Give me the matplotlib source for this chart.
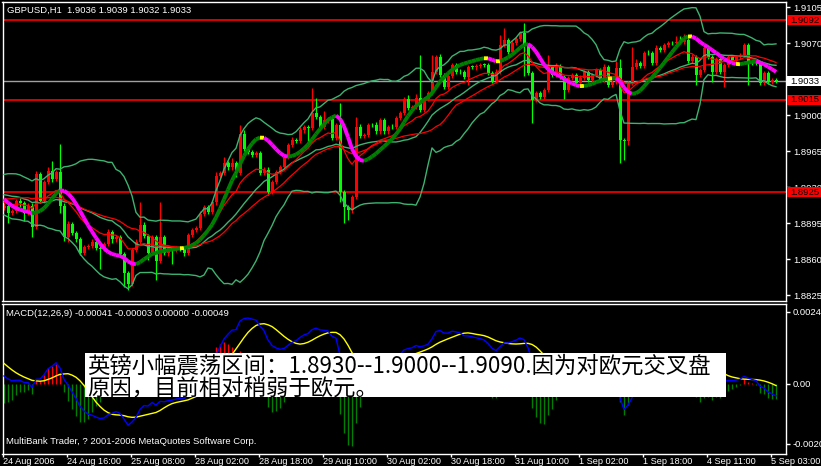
import matplotlib.pyplot as plt
from matplotlib.collections import LineCollection
from matplotlib.patches import Rectangle
import numpy as np
import pandas as pd

plt.rcParams['font.family'] = ['Liberation Sans', 'DejaVu Sans']

# GBPUSD H1 closes before the first visible bar, only used to start the indicators
warmup = [1.8872, 1.8878, 1.8870, 1.8865, 1.8874, 1.8880, 1.8876, 1.8884, 1.8879, 1.8885,
          1.8880, 1.8876, 1.8884, 1.8890, 1.8886, 1.8895, 1.8902, 1.8898, 1.8906, 1.8912,
          1.8908, 1.8918, 1.8925, 1.8921, 1.8930, 1.8936, 1.8932, 1.8940, 1.8935, 1.8930,
          1.8926, 1.8932, 1.8924, 1.8918, 1.8922, 1.8914, 1.8908, 1.8912, 1.8906, 1.8910]

# visible bars, 24 Aug 2006 00:00 .. 5 Sep 03:00
closes = [1.8912, 1.8905, 1.8907, 1.8916, 1.8914, 1.8905, 1.8912, 1.8891, 1.8943, 1.8916,
          1.8935, 1.8946, 1.8938, 1.8945, 1.8912, 1.8881, 1.8894, 1.8885, 1.8879, 1.8866,
          1.8872, 1.8873, 1.8877, 1.8871, 1.8870, 1.8875, 1.8886, 1.8879, 1.8881, 1.8865,
          1.8846, 1.8836, 1.8869, 1.8877, 1.8893, 1.8882, 1.8866, 1.8881, 1.8858, 1.8881,
          1.8866, 1.8871, 1.8869, 1.8871, 1.8870, 1.8866, 1.8883, 1.8888, 1.8890, 1.8904,
          1.8911, 1.8906, 1.8915, 1.8941, 1.8944, 1.8953, 1.8949, 1.8953, 1.8944, 1.8982,
          1.8967, 1.8964, 1.8961, 1.8963, 1.8944, 1.8947, 1.8925, 1.8935, 1.8945, 1.8949,
          1.8959, 1.8971, 1.8976, 1.8975, 1.8985, 1.8988, 1.8987, 1.9002, 1.8998, 1.8988,
          1.8995, 1.8996, 1.8978, 1.8990, 1.8925, 1.8911, 1.8908, 1.8920, 1.8988, 1.8980,
          1.8981, 1.8990, 1.8990, 1.8984, 1.8995, 1.8984, 1.8988, 1.8988, 1.8997, 1.9002,
          1.9016, 1.9007, 1.9008, 1.9017, 1.9005, 1.9016, 1.9021, 1.9042, 1.9056, 1.9039,
          1.9027, 1.9038, 1.9049, 1.9042, 1.9042, 1.9037, 1.9047, 1.9047, 1.9048, 1.9049,
          1.9049, 1.9041, 1.9033, 1.9042, 1.9068, 1.9073, 1.9061, 1.9070, 1.9074, 1.9080,
          1.9068, 1.9041, 1.9015, 1.9021, 1.9018, 1.9024, 1.9047, 1.9039, 1.9048, 1.9037,
          1.9024, 1.9036, 1.9039, 1.9031, 1.9036, 1.9042, 1.9034, 1.9039, 1.9044, 1.9034,
          1.9047, 1.9029, 1.9032, 1.9046, 1.8976, 1.8975, 1.9031, 1.9047, 1.9051, 1.9048,
          1.9060, 1.9060, 1.9051, 1.9065, 1.9063, 1.9068, 1.9070, 1.9070, 1.9071, 1.9071,
          1.9073, 1.9053, 1.9056, 1.9039, 1.9044, 1.9065, 1.9056, 1.9042, 1.9054, 1.9042,
          1.9049, 1.9056, 1.9053, 1.9056, 1.9058, 1.9068, 1.9051, 1.9051, 1.9051, 1.9031,
          1.9041, 1.9032, 1.9034, 1.9033]

# wick lengths in pips above / below the body
wick_up = [2, 2, 2, 2, 3, 2, 2, 2, 3, 2,  2, 3, 9, 2, 27, 2, 3, 2, 2, 2,
           2, 2, 2, 2, 2, 2, 3, 2, 2, 2,  2, 2, 2, 2, 22, 3, 2, 2, 2, 34,
           2, 2, 2, 2, 2, 2, 2, 2, 2, 3,  2, 2, 2, 4, 2, 6, 2, 5, 2, 8,
           3, 2, 2, 2, 2, 2, 2, 2, 2, 2,  2, 2, 3, 2, 3, 2, 2, 24, 15, 2,
           9, 2, 3, 2, 22, 2, 2, 2, 10, 3,  2, 2, 2, 3, 2, 2, 2, 3, 2, 2,
           2, 3, 2, 3, 41, 2, 2, 16, 2, 3,  2, 4, 2, 2, 3, 2, 2, 2, 2, 2,
           2, 2, 2, 3, 10, 12, 2, 3, 2, 2,  9, 2, 2, 2, 2, 2, 11, 2, 3, 2,
           2, 2, 2, 2, 3, 2, 2, 2, 2, 2,  3, 2, 2, 7, 8, 2, 2, 19, 3, 2,
           2, 3, 2, 3, 2, 2, 2, 2, 6, 6,  6, 2, 3, 2, 2, 2, 3, 2, 2, 2,
           2, 2, 2, 2, 2, 2, 2, 2, 2, 2,  2, 2, 2, 2]
wick_dn = [2, 10, 2, 2, 3, 8, 2, 10, 2, 2,  2, 2, 3, 2, 7, 3, 4, 2, 2, 2,
           2, 2, 2, 2, 20, 2, 2, 3, 2, 2,  13, 6, 2, 2, 2, 2, 7, 2, 18, 2,
           2, 3, 14, 2, 2, 3, 2, 2, 2, 2,  2, 2, 2, 2, 2, 2, 2, 2, 4, 2,
           2, 2, 2, 2, 2, 2, 3, 2, 2, 2,  2, 2, 2, 2, 2, 2, 16, 2, 2, 2,
           2, 3, 2, 2, 10, 16, 10, 3, 2, 2,  2, 2, 2, 2, 2, 2, 2, 2, 2, 2,
           2, 2, 2, 2, 2, 2, 2, 2, 2, 2,  2, 2, 2, 2, 2, 2, 8, 2, 3, 2,
           2, 2, 2, 2, 2, 2, 2, 3, 2, 2,  30, 2, 23, 2, 2, 2, 2, 2, 2, 2,
           8, 2, 2, 2, 2, 2, 2, 2, 2, 2,  2, 2, 2, 2, 23, 19, 4, 2, 2, 2,
           2, 2, 2, 2, 2, 2, 2, 2, 2, 2,  2, 2, 2, 10, 2, 2, 2, 10, 2, 2,
           15, 2, 2, 2, 2, 2, 22, 2, 2, 2,  2, 2, 2, 2]

price_ticks = [1.9105, 1.9070, 1.9035, 1.9000, 1.8965, 1.8930, 1.8895, 1.8860, 1.8825]
price_tick_labels = ['1.9105', '1.9070', '', '1.9000', '1.8965', '1.8930', '1.8895', '1.8860', '1.8825']
red_levels = [1.9092, 1.9015, 1.8925]
bid_level = 1.9033
macd_ticks = [0.00248, 0.0, -0.00207]
macd_tick_labels = ['0.00248', '0.00', '-0.00207']
time_labels = ['24 Aug 2006', '24 Aug 16:00', '25 Aug 08:00', '28 Aug 02:00', '28 Aug 18:00',
               '29 Aug 10:00', '30 Aug 02:00', '30 Aug 18:00', '31 Aug 10:00', '1 Sep 02:00',
               '1 Sep 18:00', '4 Sep 11:00', '5 Sep 03:00']
title = 'GBPUSD,H1  1.9036 1.9039 1.9032 1.9033'
macd_title = 'MACD(12,26,9) -0.00041 -0.00003 0.00000 -0.00049'
footer = 'MultiBank Trader, ? 2001-2006 MetaQuotes Software Corp.'
note = ['英镑小幅震荡区间：1.8930--1.9000--1.9090.因为对欧元交叉盘',
        '原因，目前相对稍弱于欧元。']

W, H = 821, 466
fig = plt.figure(figsize=(W / 100, H / 100), dpi=100, facecolor='black')


def px_axes(x0, y0, x1, y1):
    a = fig.add_axes([x0 / W, 1 - y1 / H, (x1 - x0) / W, (y1 - y0) / H])
    a.set_facecolor('black')
    for s in a.spines.values():
        s.set_color('white')
        s.set_linewidth(1)
    return a


ax = px_axes(2.5, 2, 786, 301)
axm = px_axes(2.5, 304, 786, 454)

# indicators
nw = len(warmup)
full = pd.Series(warmup + closes)
mid = full.rolling(20).mean()
sd = full.rolling(20).std(ddof=0)
bb_up = (mid + 2 * sd).values[nw:]
bb_dn = (mid - 2 * sd).values[nw:]
bb_mid = mid.values[nw:]


def wma(s, p):
    w = np.arange(1, p + 1)
    return s.rolling(p).apply(lambda v: np.dot(v, w) / w.sum(), raw=True)


hma = wma(2 * wma(full, 15) - wma(full, 30), 5).values[nw:]
red1 = full.ewm(span=13, adjust=False).mean().values[nw:]
red2 = full.rolling(26, min_periods=1).mean().values[nw:]
macd_line = full.ewm(span=12, adjust=False).mean() - full.ewm(span=26, adjust=False).mean()
signal = macd_line.rolling(9).mean()
hist = ((macd_line - signal) * 1.5).values[nw:]
macd_v = macd_line.values[nw:]
signal_v = signal.values[nw:]

n = len(closes)
x = np.arange(n)
close = np.array(closes)
opn = np.array([warmup[-1]] + closes[:-1])
hi = np.maximum(opn, close) + np.array(wick_up) * 1e-4
lo = np.minimum(opn, close) - np.array(wick_dn) * 1e-4
cols = np.where(close > opn, '#ff0000', '#00ff00')

# main panel
for lv in red_levels:
    ax.axhline(lv, color='#ff0000', lw=1.2, zorder=1)
ax.axhline(bid_level, color='#a0a0a4', lw=1, zorder=1)

ax.vlines(x, lo, hi, colors=cols, lw=0.9, zorder=2)
ax.bar(x, np.maximum(np.abs(close - opn), 0.00003), bottom=np.minimum(opn, close),
       width=0.75, color=cols, edgecolor='none', zorder=2)

for band in (bb_up, bb_mid, bb_dn):
    ax.plot(x, band, color='#3cb371', lw=1, zorder=3)
ax.plot(x, red1, color='#ff0000', lw=0.9, zorder=3)
ax.plot(x, red2, color='#ff0000', lw=0.9, zorder=3)

seg_cols = []
segs = []
for i in range(1, n):
    d = hma[i] - hma[i - 1]
    segs.append([(x[i - 1], hma[i - 1]), (x[i], hma[i])])
    if d > 0.00004:
        seg_cols.append('#008000')
    elif d < -0.00004:
        seg_cols.append('#ff00ff')
    else:
        seg_cols.append('#ffff00')
ax.add_collection(LineCollection(segs, colors=seg_cols, linewidths=2.8, zorder=4))

ax.set_xlim(-0.375, 195.5)
ax.set_ylim(1.88192, 1.91099)
ax.set_xticks([])
ax.yaxis.tick_right()
ax.set_yticks(price_ticks)
ax.set_yticklabels(price_tick_labels)
ax.tick_params(axis='y', colors='white', length=3, width=1, pad=2, labelsize=6.8)

# MACD panel
hcols = np.where(hist > 0, '#ff0000', '#008000')
axm.vlines(x, 0, hist, colors=hcols, lw=1, zorder=2)
axm.plot(x, signal_v, color='#ffff00', lw=1, zorder=3)
axm.plot(x, macd_v, color='#0000ff', lw=1, zorder=3)
axm.set_xlim(-0.375, 195.5)
axm.set_ylim(-0.00243, 0.002756)
axm.yaxis.tick_right()
axm.set_yticks(macd_ticks)
axm.set_yticklabels(macd_tick_labels)
axm.tick_params(axis='y', colors='white', length=3, width=1, pad=2, labelsize=6.8)
axm.set_xticks(np.arange(len(time_labels)) * 16 - 0.3)
axm.set_xticklabels(time_labels)
for lab in axm.get_xticklabels():
    lab.set_ha('left')
axm.tick_params(axis='x', colors='white', length=2, width=1, pad=0.5, labelsize=6.6)

# price labels on the scale
for lv, fc, tc in [(red_levels[0], '#ff0000', 'black'), (red_levels[1], '#ff0000', 'black'),
                   (red_levels[2], '#ff0000', 'black'), (bid_level, 'white', 'black')]:
    yd = ax.transData.transform((0, lv))[1]
    fig.add_artist(Rectangle((787 / W, (yd - 5) / H), 34 / W, 10 / H, transform=fig.transFigure,
                             facecolor=fc, edgecolor='none', zorder=5))
    fig.text(790 / W, yd / H, f'{lv:.4f}', color=tc, fontsize=6.8, va='center', ha='left', zorder=6)

fig.text(7 / W, 1 - 10 / H, title, color='white', fontsize=6.8, va='center')
fig.text(6 / W, 1 - 314 / H, macd_title, color='white', fontsize=6.8, va='center')
fig.text(6 / W, 1 - 441 / H, footer, color='white', fontsize=6.8, va='center')

fig.add_artist(Rectangle((85 / W, 1 - 397 / H), 641 / W, 44 / H, transform=fig.transFigure,
                         facecolor='white', edgecolor='none', zorder=7))
cjk = ['Noto Sans CJK SC', 'DejaVu Sans']
fig.text(87 / W, 1 - 366 / H, note[0], color='black', fontsize=16.1, family=cjk, va='center', zorder=8)
fig.text(87 / W, 1 - 388 / H, note[1], color='black', fontsize=16.1, family=cjk, va='center', zorder=8)

fig.savefig('out.png', dpi=100, facecolor='black')
